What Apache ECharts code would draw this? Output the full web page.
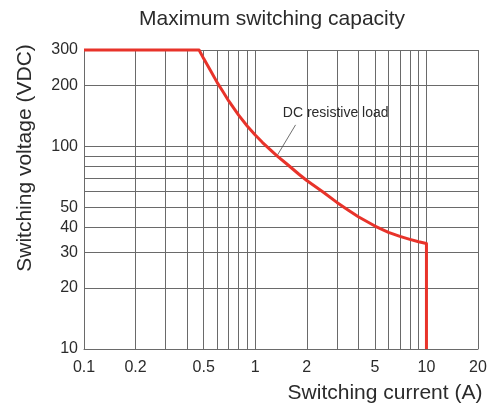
<!DOCTYPE html>
<html>
<head>
<meta charset="utf-8">
<script src="https://cdn.jsdelivr.net/npm/echarts@6/dist/echarts.min.js"></script>
<style>html,body{margin:0;padding:0;background:#fff}#c{width:496px;height:409px}</style>
</head>
<body>
<div id="c"></div>
<script>
// ---- data ----
const currentA = [0.1, 0.47, 0.5, 0.55, 0.6, 0.65, 0.7, 0.8, 0.9, 1.0, 1.1, 1.2, 1.34, 1.53, 1.8, 2, 2.5, 3, 3.5, 4, 5, 6, 7, 8, 9, 10, 10];
const voltageV = [300, 300, 272, 236, 207, 186, 168, 143, 126, 114, 105, 98, 90, 82, 73, 68, 59.5, 53, 48.5, 45, 40.5, 37.7, 36, 34.8, 33.9, 33.2, 10];
const xGridValues = [0.1, 0.2, 0.3, 0.4, 0.5, 0.6, 0.7, 0.8, 0.9, 1, 2, 3, 4, 5, 6, 7, 8, 9, 10, 20];
const xTickLabels = [0.1, 0.2, 0.5, 1, 2, 5, 10, 20];
const yGridValues = [10, 20, 30, 40, 50, 60, 70, 80, 90, 100, 200, 300];
const yTickLabels = [10, 20, 30, 40, 50, 100, 200, 300];
const annotationText = 'DC resistive load';
const leaderFrom = [1.34, 90];
const leaderTo = [1.72, 128];
const annotationAt = [2.95, 146];

const FONT = '"Liberation Sans", Arial, Helvetica, sans-serif';
const TXT = '#2b2b2b';
const GRID = '#6a6a6a';
const fmt = v => String(+(+v).toPrecision(3));

const chart = echarts.init(document.getElementById('c'), null, {renderer: 'canvas'});
chart.setOption({
  animation: false,
  backgroundColor: '#fff',
  title: {
    text: 'Maximum switching capacity',
    left: 139, top: 9, padding: 0,
    textStyle: {fontFamily: FONT, fontSize: 21, fontWeight: 'normal', color: TXT}
  },
  grid: {left: 84, right: 18, top: 50, bottom: 58, containLabel: false},
  xAxis: {
    type: 'log', logBase: 10, min: 0.1, max: 20,
    name: 'Switching current (A)', nameLocation: 'middle', nameGap: 34,
    nameTextStyle: {fontFamily: FONT, fontSize: 21, color: TXT, padding: [0, 0, 0, 208]},
    axisLine: {show: true, lineStyle: {color: GRID, width: 1}},
    axisTick: {show: false, customValues: xGridValues},
    axisLabel: {customValues: xTickLabels, formatter: fmt, fontFamily: FONT, fontSize: 16, color: TXT, margin: 11},
    splitLine: {show: true, lineStyle: {color: GRID, width: 1}},
    minorTick: {show: false}, minorSplitLine: {show: false}
  },
  yAxis: {
    type: 'log', logBase: 10, min: 10, max: 300,
    name: 'Switching voltage (VDC)', nameLocation: 'middle', nameGap: 48, nameRotate: 90,
    nameTextStyle: {fontFamily: FONT, fontSize: 21, color: TXT, padding: [0, 0, 0, 83]},
    axisLine: {show: true, lineStyle: {color: GRID, width: 1}},
    axisTick: {show: false, customValues: yGridValues},
    axisLabel: {customValues: yTickLabels, formatter: fmt, fontFamily: FONT, fontSize: 16, color: TXT, margin: 6},
    splitLine: {show: true, lineStyle: {color: GRID, width: 1}},
    minorTick: {show: false}, minorSplitLine: {show: false}
  },
  series: [{
    type: 'line',
    data: currentA.map((x, i) => [x, voltageV[i]]),
    showSymbol: false,
    smooth: false,
    clip: false,
    lineStyle: {color: '#e8332a', width: 3, join: 'round'},
    z: 5,
    markLine: {
      silent: true,
      symbol: ['none', 'none'],
      label: {show: false},
      lineStyle: {color: '#4a4a4a', width: 0.8, type: 'solid'},
      data: [[{coord: leaderFrom}, {coord: leaderTo}]]
    },
    markPoint: {
      silent: true,
      symbol: 'circle', symbolSize: 0,
      label: {show: true, position: 'inside', formatter: annotationText,
              fontFamily: FONT, fontSize: 14, color: TXT},
      data: [{coord: annotationAt}]
    }
  }]
});
</script>
</body>
</html>
